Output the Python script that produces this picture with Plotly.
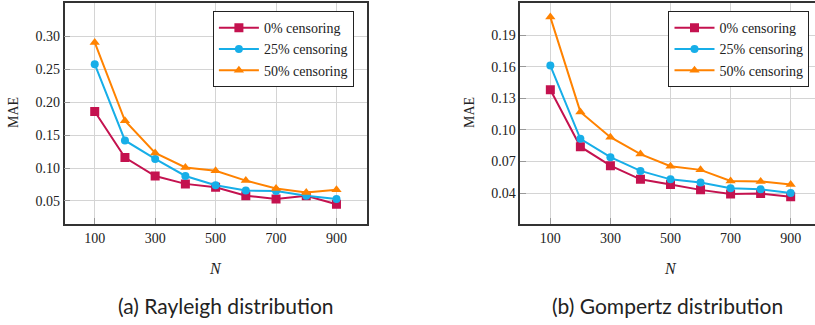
import plotly.graph_objects as go

N = [100, 200, 300, 400, 500, 600, 700, 800, 900]

ray_0 = [0.186, 0.116, 0.088, 0.076, 0.071, 0.058, 0.053, 0.058, 0.045]
ray_25 = [0.258, 0.142, 0.114, 0.088, 0.074, 0.066, 0.065, 0.058, 0.053]
ray_50 = [0.291, 0.172, 0.123, 0.101, 0.096, 0.081, 0.069, 0.063, 0.067]

gom_0 = [0.138, 0.084, 0.066, 0.053, 0.048, 0.043, 0.039, 0.0395, 0.0365]
gom_25 = [0.161, 0.0915, 0.074, 0.061, 0.053, 0.050, 0.0445, 0.0435, 0.040]
gom_50 = [0.207, 0.117, 0.093, 0.077, 0.0655, 0.062, 0.0515, 0.051, 0.048]

series_names = ["0% censoring", "25% censoring", "50% censoring"]
colors = ["#C4124F", "#17AEE8", "#FF8200"]
symbols = ["square", "circle", "triangle-up"]

x_ticks = [100, 300, 500, 700, 900]
ray_yticks = [0.05, 0.10, 0.15, 0.20, 0.25, 0.30]
gom_yticks = [0.04, 0.07, 0.10, 0.13, 0.16, 0.19]

captions = ["(a) Rayleigh distribution", "(b) Gompertz distribution"]

fig = go.Figure()

serif = "Liberation Serif, DejaVu Serif, serif"

for i, ys in enumerate([ray_0, ray_25, ray_50]):
    fig.add_trace(go.Scatter(
        x=N, y=ys, name=series_names[i], mode="lines+markers",
        line=dict(color=colors[i], width=2),
        marker=dict(symbol=symbols[i], size=9 if symbols[i] != "circle" else 8, color=colors[i]),
        xaxis="x", yaxis="y", legend="legend"))

for i, ys in enumerate([gom_0, gom_25, gom_50]):
    fig.add_trace(go.Scatter(
        x=N, y=ys, name=series_names[i], mode="lines+markers",
        line=dict(color=colors[i], width=2),
        marker=dict(symbol=symbols[i], size=9 if symbols[i] != "circle" else 8, color=colors[i]),
        xaxis="x2", yaxis="y2", legend="legend2"))

W, H = 815, 325
yd = [1 - 224 / H, 1 - 3 / H]

common_x = dict(
    tickvals=x_ticks, ticktext=[str(v) for v in x_ticks],
    showgrid=True, gridcolor="#d4d4d4", gridwidth=1.2,
    showline=True, linecolor="#333333", linewidth=1.5, mirror=True,
    ticks="inside", ticklen=6, tickcolor="#999999",
    tickfont=dict(family=serif, size=14, color="#222"),
    zeroline=False)

common_y = dict(
    showgrid=True, gridcolor="#d4d4d4", gridwidth=1.2,
    showline=True, linecolor="#333333", linewidth=1.5,
    ticks="inside", ticklen=6, tickcolor="#999999",
    tickfont=dict(family=serif, size=14, color="#222"),
    zeroline=False, domain=yd)

fig.update_layout(
    width=W, height=H,
    margin=dict(l=0, r=0, t=0, b=0),
    plot_bgcolor="white", paper_bgcolor="white",
    xaxis=dict(common_x, domain=[64.5 / W, 366.7 / W], range=[0, 1000], anchor="y"),
    yaxis=dict(common_y, range=[0.015, 0.351], tickvals=ray_yticks,
               ticktext=["%.2f" % v for v in ray_yticks], mirror=True, anchor="x"),
    xaxis2=dict(common_x, domain=[520.3 / W, 1.0], range=[0, 981], anchor="y2"),
    yaxis2=dict(common_y, range=[0.0106, 0.2204], tickvals=gom_yticks,
                ticktext=["%.2f" % v for v in gom_yticks], mirror=False, anchor="x2"),
    legend=dict(x=212.7 / W, y=1 - 11 / H, xanchor="left", yanchor="top",
                bgcolor="white", bordercolor="#222", borderwidth=1.2,
                font=dict(family=serif, size=14, color="#222"),
                tracegroupgap=0, itemwidth=40),
    legend2=dict(x=668.3 / W, y=1 - 11 / H, xanchor="left", yanchor="top",
                 bgcolor="white", bordercolor="#222", borderwidth=1.2,
                 font=dict(family=serif, size=14, color="#222"),
                 tracegroupgap=0, itemwidth=40),
    showlegend=True,
)

ann = []
ann.append(dict(text="MAE", x=13 / W, y=1 - 113 / H, xref="paper", yref="paper",
                xanchor="center", yanchor="middle",
                showarrow=False, textangle=-90, font=dict(family=serif, size=14, color="#222")))
ann.append(dict(text="MAE", x=469 / W, y=1 - 113 / H, xref="paper", yref="paper",
                xanchor="center", yanchor="middle",
                showarrow=False, textangle=-90, font=dict(family=serif, size=14, color="#222")))
ann.append(dict(text="<i>N</i>", x=215.5 / W, y=1 - 268 / H, xref="paper", yref="paper",
                xanchor="center", yanchor="middle",
                showarrow=False, font=dict(family=serif, size=16, color="#222")))
ann.append(dict(text="<i>N</i>", x=670 / W, y=1 - 268 / H, xref="paper", yref="paper",
                xanchor="center", yanchor="middle",
                showarrow=False, font=dict(family=serif, size=16, color="#222")))
ann.append(dict(text=captions[0], x=225.5 / W, y=1 - 305 / H, xref="paper", yref="paper",
                xanchor="center", yanchor="middle",
                showarrow=False, font=dict(family="Lato", size=21, color="#222")))
ann.append(dict(text=captions[1], x=667 / W, y=1 - 305 / H, xref="paper", yref="paper",
                xanchor="center", yanchor="middle",
                showarrow=False, font=dict(family="Lato", size=21, color="#222")))
fig.update_layout(annotations=ann)

fig.write_html("out.html", config={"displayModeBar": False},
               post_script="document.body.style.margin='0';document.body.style.overflow='hidden';")
